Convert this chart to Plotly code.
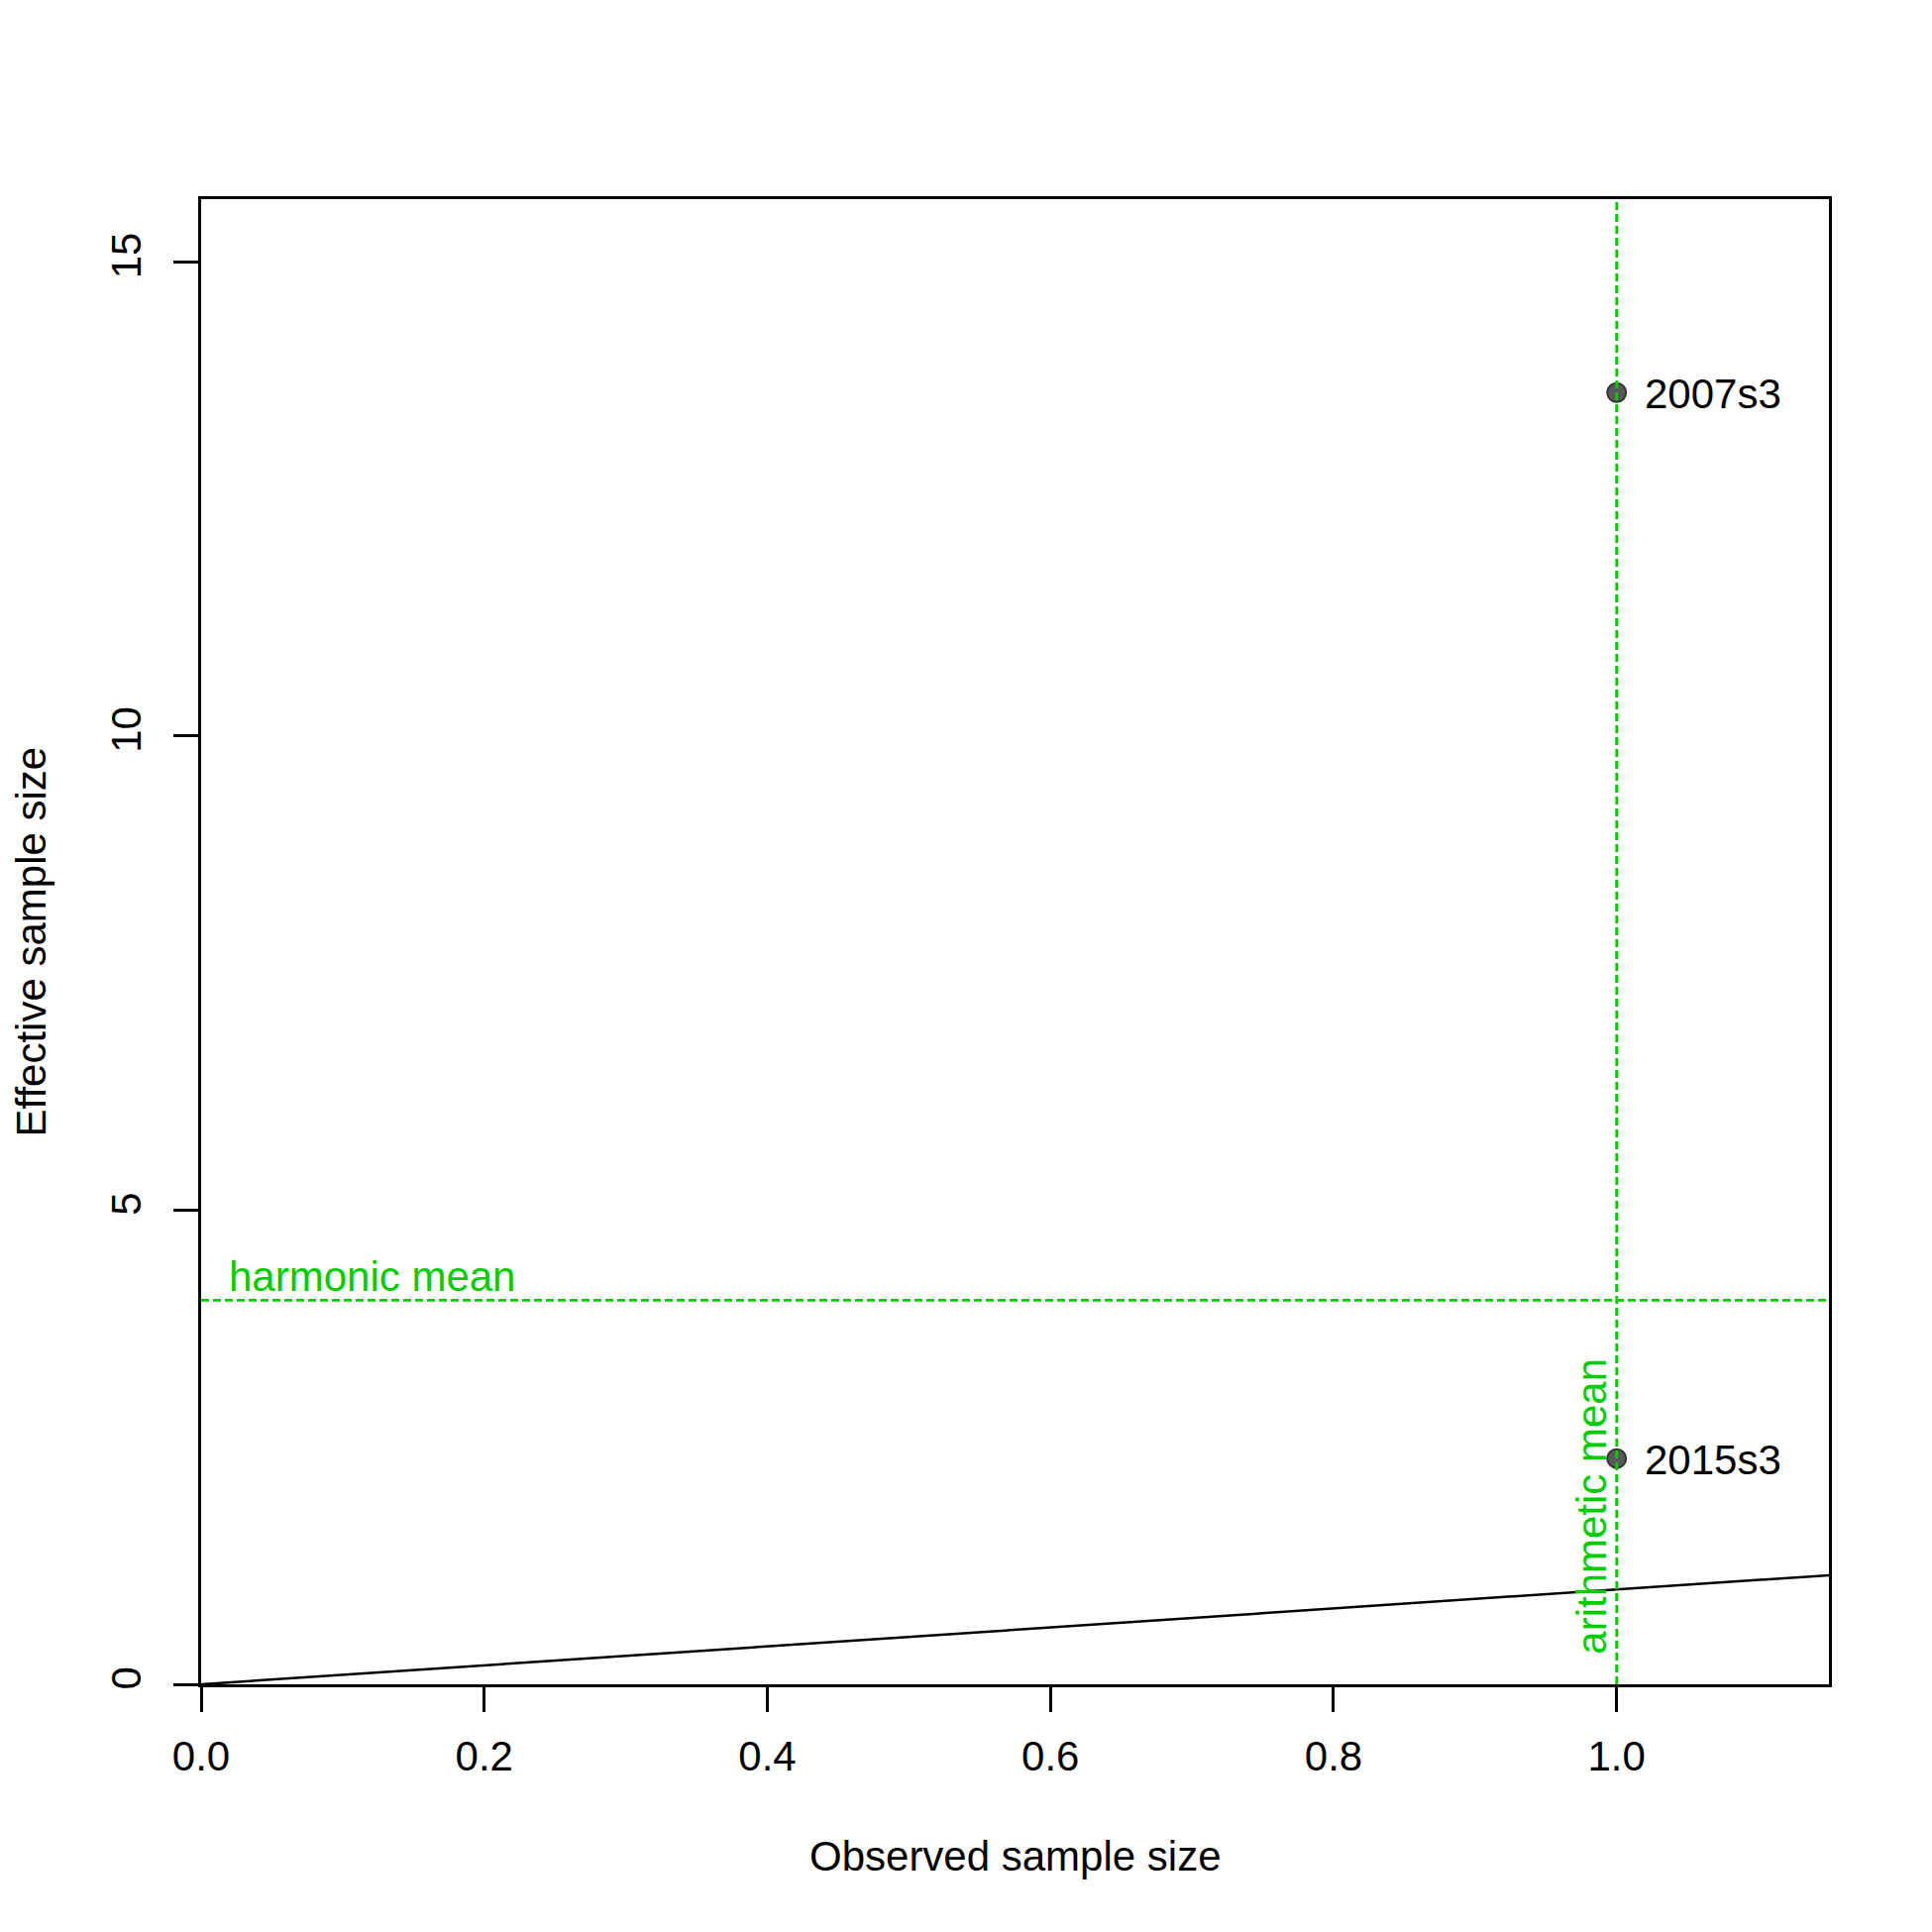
import plotly.graph_objects as go

# observed vs effective sample size, one point per survey
labels = ["2007s3", "2015s3"]
observed = [1.0, 1.0]
effective = [13.62, 2.38]

harmonic_mean = 4.05
arithmetic_mean = 1.0

x_range = [0, 1.15]
y_range = [0, 15.66]
x_ticks = [0, 0.2, 0.4, 0.6, 0.8, 1.0]
x_tick_text = ["0.0", "0.2", "0.4", "0.6", "0.8", "1.0"]
y_ticks = [0, 5, 10, 15]

green = "#00CD00"
fam = "Arial, Liberation Sans, sans-serif"
font = dict(family=fam, size=42, color="black")

fig = go.Figure()

# 1:1 line
fig.add_trace(go.Scatter(
    x=[0, 2], y=[0, 2],
    mode="lines",
    line=dict(color="black", width=2.5),
    hoverinfo="skip",
))

fig.add_trace(go.Scatter(
    x=observed, y=effective,
    mode="markers",
    marker=dict(size=19, color="#595959", line=dict(color="#333333", width=2)),
    hoverinfo="skip",
))

# point labels to the right of each point
for lab, xv, yv in zip(labels, observed, effective):
    fig.add_annotation(
        x=xv, y=yv, text=lab, showarrow=False,
        xanchor="left", yanchor="middle", xshift=26, yshift=-1,
        font=dict(family=fam, size=42, color="black"),
    )

# mean lines (drawn over the points)
fig.add_shape(type="line", xref="paper", x0=0, x1=1, y0=harmonic_mean, y1=harmonic_mean,
              line=dict(color=green, width=2.8, dash="8px,4px"), layer="above")
fig.add_shape(type="line", yref="paper", y0=0, y1=1, x0=arithmetic_mean, x1=arithmetic_mean,
              line=dict(color=green, width=2.8, dash="8px,4px"), layer="above")

fig.add_annotation(
    x=0, y=harmonic_mean, text="harmonic mean", showarrow=False,
    xanchor="left", yanchor="bottom", xshift=26, yshift=-2,
    font=dict(family=fam, size=42, color=green),
)
fig.add_annotation(
    x=arithmetic_mean, y=0, text="arithmetic mean", showarrow=False, textangle=-90,
    xanchor="right", yanchor="bottom", xshift=0, yshift=28,
    font=dict(family=fam, size=42, color=green),
)

# axis titles
fig.add_annotation(
    xref="paper", yref="paper", x=0.5, y=0, text="Observed sample size", showarrow=False,
    xanchor="center", yanchor="middle", yshift=-173,
    font=font,
)
fig.add_annotation(
    xref="paper", yref="paper", x=0, y=0.5, text="Effective sample size", showarrow=False,
    textangle=-90, xanchor="center", yanchor="middle", xshift=-172,
    font=font,
)

fig.update_layout(
    width=1950, height=1950,
    margin=dict(l=195, r=112, t=193, b=258),
    paper_bgcolor="white", plot_bgcolor="white",
    showlegend=False,
    font=font,
    xaxis=dict(
        range=x_range, tickvals=x_ticks, ticktext=x_tick_text,
        showgrid=False, zeroline=False,
        showline=True, linecolor="black", linewidth=2.5, mirror=True,
        ticks="outside", ticklen=25, tickwidth=2.5, tickcolor="black",
        ticklabelstandoff=9, tickfont=font,
    ),
    yaxis=dict(
        range=y_range, tickvals=y_ticks,
        showgrid=False, zeroline=False,
        showline=True, linecolor="black", linewidth=2.5, mirror=True,
        ticks="outside", ticklen=25, tickwidth=2.5, tickcolor="black",
        tickangle=-90, ticklabelstandoff=16, tickfont=font,
    ),
)

fig.write_html("out.html")
